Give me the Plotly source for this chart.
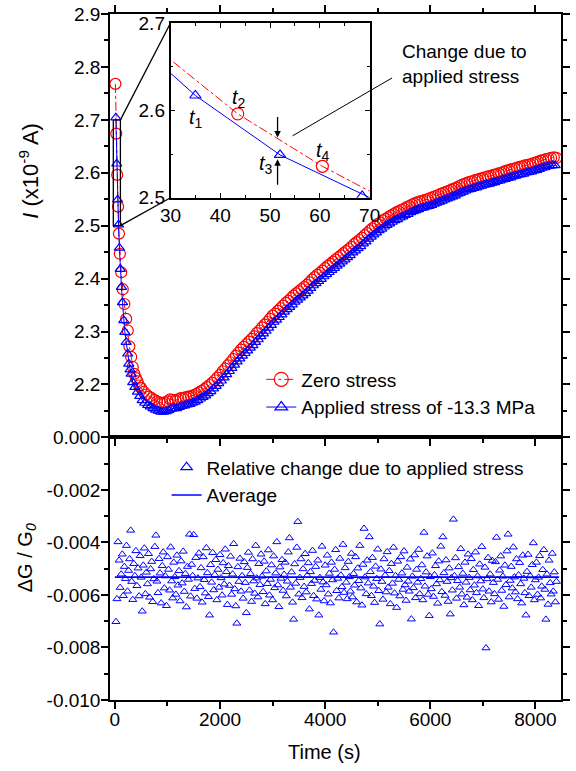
import plotly.graph_objects as go

# ---------------- data ----------------
# Zero stress current (x1e-9 A) vs time (s)
t_zero = [9.5, 26.5, 43.5, 60.5, 77.5, 94.5, 120, 150, 180, 215, 245, 275, 310, 340, 370, 400, 430, 460, 500, 550, 600,
          650, 700, 750, 800, 850, 900, 950, 1000, 1050, 1100,
          1150, 1200, 1250, 1300, 1350, 1400, 1450, 1500, 1550, 1600,
          1650, 1700, 1750, 1800, 1850, 1900, 1950, 2000, 2050, 2100,
          2150, 2200, 2250, 2300, 2350, 2400, 2450, 2500, 2550, 2600,
          2650, 2700, 2750, 2800, 2850, 2900, 2950, 3000, 3050, 3100,
          3150, 3200, 3250, 3300, 3350, 3400, 3450, 3500, 3550, 3600,
          3650, 3700, 3750, 3800, 3850, 3900, 3950, 4000, 4050, 4100,
          4150, 4200, 4250, 4300, 4350, 4400, 4450, 4500, 4550, 4600,
          4650, 4700, 4750, 4800, 4850, 4900, 4950, 5000, 5050, 5100,
          5150, 5200, 5250, 5300, 5350, 5400, 5450, 5500, 5550, 5600,
          5650, 5700, 5750, 5800, 5850, 5900, 5950, 6000, 6050, 6100,
          6150, 6200, 6250, 6300, 6350, 6400, 6450, 6500, 6550, 6600,
          6650, 6700, 6750, 6800, 6850, 6900, 6950, 7000, 7050, 7100,
          7150, 7200, 7250, 7300, 7350, 7400, 7450, 7500, 7550, 7600,
          7650, 7700, 7750, 7800, 7850, 7900, 7950, 8000, 8050, 8100,
          8150, 8200, 8250, 8300, 8350, 8400]
I_zero = [2.768, 2.674, 2.596, 2.536, 2.485, 2.447, 2.412, 2.380, 2.352, 2.324, 2.302, 2.272, 2.252, 2.233, 2.220, 2.212, 2.206, 2.198, 2.193, 2.186, 2.181,
          2.177, 2.174, 2.171, 2.168, 2.166, 2.165, 2.166, 2.168, 2.172, 2.171,
          2.170, 2.172, 2.174, 2.174, 2.176, 2.177, 2.178, 2.180, 2.182, 2.185,
          2.188, 2.191, 2.195, 2.199, 2.203, 2.208, 2.213, 2.218, 2.225, 2.230,
          2.236, 2.242, 2.248, 2.254, 2.260, 2.266, 2.271, 2.276, 2.281, 2.286,
          2.291, 2.297, 2.302, 2.308, 2.313, 2.318, 2.324, 2.330, 2.334, 2.339,
          2.344, 2.349, 2.354, 2.358, 2.363, 2.368, 2.372, 2.376, 2.380, 2.384,
          2.388, 2.393, 2.398, 2.403, 2.407, 2.411, 2.415, 2.420, 2.424, 2.428,
          2.432, 2.436, 2.440, 2.444, 2.448, 2.452, 2.456, 2.460, 2.465, 2.469,
          2.473, 2.477, 2.482, 2.486, 2.491, 2.495, 2.499, 2.503, 2.506, 2.510,
          2.513, 2.516, 2.519, 2.522, 2.525, 2.527, 2.530, 2.532, 2.535, 2.537,
          2.540, 2.542, 2.544, 2.546, 2.547, 2.549, 2.550, 2.552, 2.554, 2.556,
          2.558, 2.560, 2.562, 2.564, 2.566, 2.568, 2.570, 2.572, 2.575, 2.577,
          2.579, 2.581, 2.583, 2.584, 2.586, 2.587, 2.589, 2.590, 2.592, 2.593,
          2.594, 2.596, 2.597, 2.599, 2.600, 2.602, 2.604, 2.605, 2.607, 2.608,
          2.610, 2.611, 2.612, 2.614, 2.615, 2.616, 2.618, 2.619, 2.621, 2.623,
          2.624, 2.626, 2.627, 2.628, 2.629, 2.628]

# Applied stress of -13.3 MPa
t_app = [18, 35, 52, 68.5, 85.5, 102.5, 125, 145, 170, 190, 215, 245, 265, 290, 310, 340, 380, 430, 475, 520, 570, 625,
         675, 725, 775, 825, 875, 925, 975, 1025, 1075, 1125,
         1175, 1225, 1275, 1325, 1375, 1425, 1475, 1525, 1575, 1625,
         1675, 1725, 1775, 1825, 1875, 1925, 1975, 2025, 2075, 2125,
         2175, 2225, 2275, 2325, 2375, 2425, 2475, 2525, 2575, 2625,
         2675, 2725, 2775, 2825, 2875, 2925, 2975, 3025, 3075, 3125,
         3175, 3225, 3275, 3325, 3375, 3425, 3475, 3525, 3575, 3625,
         3675, 3725, 3775, 3825, 3875, 3925, 3975, 4025, 4075, 4125,
         4175, 4225, 4275, 4325, 4375, 4425, 4475, 4525, 4575, 4625,
         4675, 4725, 4775, 4825, 4875, 4925, 4975, 5025, 5075, 5125,
         5175, 5225, 5275, 5325, 5375, 5425, 5475, 5525, 5575, 5625,
         5675, 5725, 5775, 5825, 5875, 5925, 5975, 6025, 6075, 6125,
         6175, 6225, 6275, 6325, 6375, 6425, 6475, 6525, 6575, 6625,
         6675, 6725, 6775, 6825, 6875, 6925, 6975, 7025, 7075, 7125,
         7175, 7225, 7275, 7325, 7375, 7425, 7475, 7525, 7575, 7625,
         7675, 7725, 7775, 7825, 7875, 7925, 7975, 8025, 8075, 8125,
         8175, 8225, 8275, 8325, 8375]
I_app = [2.704, 2.617, 2.549, 2.502, 2.458, 2.418, 2.384, 2.355, 2.321, 2.299, 2.280, 2.258, 2.239, 2.228, 2.220, 2.204, 2.195, 2.186, 2.178, 2.170, 2.165, 2.161,
         2.158, 2.155, 2.152, 2.150, 2.148, 2.148, 2.149, 2.151, 2.154, 2.155,
         2.155, 2.157, 2.159, 2.160, 2.162, 2.163, 2.165, 2.167, 2.170, 2.173,
         2.176, 2.179, 2.183, 2.187, 2.192, 2.197, 2.202, 2.207, 2.213, 2.219,
         2.225, 2.231, 2.237, 2.243, 2.249, 2.254, 2.259, 2.264, 2.269, 2.274,
         2.280, 2.285, 2.291, 2.296, 2.301, 2.307, 2.312, 2.318, 2.322, 2.327,
         2.332, 2.337, 2.342, 2.346, 2.351, 2.356, 2.360, 2.364, 2.368, 2.372,
         2.377, 2.382, 2.387, 2.391, 2.395, 2.399, 2.404, 2.408, 2.412, 2.416,
         2.420, 2.424, 2.428, 2.432, 2.436, 2.440, 2.444, 2.449, 2.453, 2.457,
         2.461, 2.466, 2.470, 2.475, 2.479, 2.483, 2.487, 2.491, 2.494, 2.498,
         2.501, 2.504, 2.507, 2.510, 2.512, 2.515, 2.517, 2.520, 2.522, 2.525,
         2.527, 2.529, 2.531, 2.533, 2.534, 2.536, 2.537, 2.539, 2.541, 2.543,
         2.545, 2.547, 2.549, 2.551, 2.553, 2.555, 2.557, 2.560, 2.562, 2.564,
         2.566, 2.568, 2.569, 2.571, 2.572, 2.574, 2.575, 2.577, 2.578, 2.579,
         2.581, 2.582, 2.584, 2.585, 2.587, 2.588, 2.590, 2.591, 2.593, 2.594,
         2.596, 2.597, 2.598, 2.600, 2.601, 2.602, 2.604, 2.605, 2.607, 2.609,
         2.610, 2.612, 2.613, 2.614, 2.614]

# Relative change dG/G0, sampled every 20 s starting at 20 s
dG_start = 20
dG_step = 20
dG_rel = [
    -0.00702, -0.00615, -0.00398, -0.00468, -0.00572, -0.00521, -0.00445, -0.00603, -0.00492, -0.00538, -0.00412, -0.00586, -0.00507, -0.00463, -0.00354, -0.00549, -0.00618, -0.00481, -0.00527, -0.00432,
    -0.00565, -0.00498, -0.00604, -0.00451, -0.00533, -0.00662, -0.00487, -0.00422, -0.00596, -0.00514, -0.00558, -0.00443, -0.00609, -0.00501, -0.00473, -0.00626, -0.00539, -0.00416, -0.00373, -0.00548,
    -0.00592, -0.00462, -0.00517, -0.00631, -0.00489, -0.00437, -0.00574, -0.00528, -0.00641, -0.00455, -0.00503, -0.00582, -0.00418, -0.00547, -0.00612, -0.00476, -0.00531, -0.00598, -0.00449, -0.00563,
    -0.00508, -0.00623, -0.00471, -0.00555, -0.00434, -0.00587, -0.00519, -0.00646, -0.00492, -0.00541, -0.00369, -0.00605, -0.00484, -0.00527, -0.00371, -0.00576, -0.00458, -0.00613, -0.00536, -0.00441,
    -0.00569, -0.00497, -0.00628, -0.00455, -0.00542, -0.00593, -0.00421, -0.00516, -0.00607, -0.00677, -0.00485, -0.00552, -0.00439, -0.00581, -0.00523, -0.00466, -0.00619, -0.00503, -0.00571, -0.00447,
    -0.00535, -0.00601, -0.00478, -0.00559, -0.00426, -0.00512, -0.00637, -0.00489, -0.00564, -0.00453, -0.00598, -0.00521, -0.00405, -0.00577, -0.00642, -0.00708, -0.00493, -0.00549, -0.00461, -0.00586,
    -0.00527, -0.00613, -0.00474, -0.00553, -0.00668, -0.00496, -0.00438, -0.00582, -0.00519, -0.00625, -0.00463, -0.00547, -0.00594, -0.00412, -0.00536, -0.00608, -0.00481, -0.00561, -0.00445, -0.00529,
    -0.00588, -0.00472, -0.00634, -0.00509, -0.00557, -0.00429, -0.00601, -0.00541, -0.00486, -0.00619, -0.00452, -0.00573, -0.00517, -0.00398, -0.00562, -0.00645, -0.00494, -0.00537, -0.00466, -0.00583,
    -0.00522, -0.00476, -0.00604, -0.00548, -0.00437, -0.00383, -0.00571, -0.00513, -0.00628, -0.00693, -0.00482, -0.00556, -0.00419, -0.00321, -0.00597, -0.00534, -0.00463, -0.00611, -0.00501, -0.00568,
    -0.00443, -0.00589, -0.00526, -0.00478, -0.00654, -0.00512, -0.00557, -0.00431, -0.00603, -0.00545, -0.00492, -0.00616, -0.00468, -0.00677, -0.00534, -0.00579, -0.00415, -0.00551, -0.00623, -0.00487,
    -0.00562, -0.00449, -0.00597, -0.00518, -0.00631, -0.00476, -0.00543, -0.00742, -0.00503, -0.00428, -0.00584, -0.00537, -0.00612, -0.00461, -0.00525, -0.00569, -0.00408, -0.00591, -0.00497, -0.00552,
    -0.00615, -0.00473, -0.00531, -0.00586, -0.00442, -0.00608, -0.00519, -0.00563, -0.00455, -0.00627, -0.00498, -0.00546, -0.00412, -0.00574, -0.00639, -0.00484, -0.00347, -0.00532, -0.00596, -0.00468,
    -0.00555, -0.00379, -0.00512, -0.00603, -0.00458, -0.00567, -0.00629, -0.00491, -0.00538, -0.00426, -0.00584, -0.00711, -0.00502, -0.00549, -0.00617, -0.00463, -0.00525, -0.00589, -0.00436, -0.00571,
    -0.00508, -0.00634, -0.00481, -0.00556, -0.00419, -0.00593, -0.00527, -0.00648, -0.00472, -0.00541, -0.00604, -0.00455, -0.00517, -0.00579, -0.00433, -0.00562, -0.00621, -0.00495, -0.00548, -0.00586,
    -0.00464, -0.00692, -0.00529, -0.00573, -0.00448, -0.00611, -0.00503, -0.00552, -0.00427, -0.00596, -0.00538, -0.00486, -0.00619, -0.00362, -0.00567, -0.00513, -0.00452, -0.00598, -0.00679, -0.00531,
    -0.00577, -0.00441, -0.00606, -0.00524, -0.00489, -0.00558, -0.00632, -0.00471, -0.00543, -0.00415, -0.00588, -0.00379, -0.00516, -0.00602, -0.00467, -0.00549, -0.00625, -0.00498, -0.00673, -0.00535,
    -0.00582, -0.00312, -0.00527, -0.00459, -0.00613, -0.00546, -0.00493, -0.00571, -0.00424, -0.00597, -0.00518, -0.00638, -0.00476, -0.00552, -0.00609, -0.00445, -0.00534, -0.00581, -0.00462, -0.00619,
    -0.00504, -0.00563, -0.00437, -0.00592, -0.00528, -0.00641, -0.00483, -0.00547, -0.00416, -0.00578, -0.00611, -0.00495, -0.00802, -0.00539, -0.00458, -0.00586, -0.00521, -0.00627, -0.00469, -0.00553,
    -0.00596, -0.00474, -0.00381, -0.00541, -0.00617, -0.00506, -0.00452, -0.00583, -0.00529, -0.00644, -0.00487, -0.00561, -0.00433, -0.00369, -0.00608, -0.00545, -0.00492, -0.00574, -0.00418, -0.00532,
    -0.00589, -0.00463, -0.00615, -0.00524, -0.00477, -0.00558, -0.00631, -0.00449, -0.00537, -0.00592, -0.00677, -0.00511, -0.00446, -0.00603, -0.00528, -0.00571, -0.00485, -0.00402, -0.00619, -0.00543,
    -0.00476, -0.00598, -0.00533, -0.00451, -0.00612, -0.00567, -0.00504, -0.00428, -0.00579, -0.00693, -0.00521, -0.00636, -0.00468, -0.00554, -0.00597, -0.00442, -0.00586, -0.00513, -0.00627, -0.00549,
]
avg_value = -0.00532
avg_span = [0, 8450]

top_ticks = [2.2, 2.3, 2.4, 2.5, 2.6, 2.7, 2.8, 2.9]
bot_ticks = [-0.010, -0.008, -0.006, -0.004, -0.002, 0.0]

# ---------------- geometry ----------------
W, H = 576, 771
ML, MR, MT, MB = 110, 4, 13, 71
PW = W - ML - MR
PH = H - MT - MB
SPLIT = 263 / PH
X_RANGE = [-93, 8487]
Y_TOP = [2.1, 2.9]
Y_BOT = [-0.010, 0.0]
INSET_X = [30, 70]
INSET_Y = [2.5, 2.7]


def fx(px):
    return (px - ML) / PW


def fy(py):
    return (H - MB - py) / PH


INSET_DX = [fx(172), fx(376)]
INSET_DY = [fy(197), fy(22)]

RED = "#ff0000"
BLUE = "#0000ff"
FONT = "Arial, 'Liberation Sans', sans-serif"
FS = 19

fig = go.Figure()

# main panel
fig.add_trace(go.Scatter(x=t_zero, y=I_zero, mode="lines+markers", xaxis="x", yaxis="y",
                         line=dict(color=RED, width=1, dash="dashdot"),
                         marker=dict(symbol="circle-open", size=11, color=RED, line=dict(width=1.2)),
                         showlegend=False))
fig.add_trace(go.Scatter(x=t_app, y=I_app, mode="lines+markers", xaxis="x", yaxis="y",
                         line=dict(color=BLUE, width=1),
                         marker=dict(symbol="triangle-up-open", size=9, color=BLUE, line=dict(width=1.2)),
                         showlegend=False))
# inset
fig.add_trace(go.Scatter(x=t_zero, y=I_zero, mode="lines+markers", xaxis="x3", yaxis="y3",
                         line=dict(color=RED, width=1, dash="dashdot"),
                         marker=dict(symbol="circle-open", size=12, color=RED, line=dict(width=1.2)),
                         showlegend=False))
fig.add_trace(go.Scatter(x=t_app, y=I_app, mode="lines+markers", xaxis="x3", yaxis="y3",
                         line=dict(color=BLUE, width=1),
                         marker=dict(symbol="triangle-up-open", size=10, color=BLUE, line=dict(width=1.2)),
                         showlegend=False))
# legend entries (top)
fig.add_trace(go.Scatter(x=[None], y=[None], mode="lines+markers", name="Zero stress", xaxis="x", yaxis="y",
                         line=dict(color=RED, width=1, dash="dashdot"),
                         marker=dict(symbol="circle-open", size=14, color=RED, line=dict(width=1.2)),
                         legend="legend"))
fig.add_trace(go.Scatter(x=[None], y=[None], mode="lines+markers", name="Applied stress of -13.3 MPa",
                         xaxis="x", yaxis="y",
                         line=dict(color=BLUE, width=1),
                         marker=dict(symbol="triangle-up-open", size=11, color=BLUE, line=dict(width=1.2)),
                         legend="legend"))
# bottom panel
fig.add_trace(go.Scatter(x0=dG_start, dx=dG_step, y=dG_rel, mode="markers", xaxis="x2", yaxis="y2",
                         marker=dict(symbol="triangle-up-open", size=7, color=BLUE, line=dict(width=1)),
                         showlegend=False))
fig.add_trace(go.Scatter(x=avg_span, y=[avg_value, avg_value], mode="lines", xaxis="x2", yaxis="y2",
                         line=dict(color=BLUE, width=1.8), showlegend=False))
fig.add_trace(go.Scatter(x=[None], y=[None], mode="markers", name="Relative change due to applied stress",
                         xaxis="x2", yaxis="y2",
                         marker=dict(symbol="triangle-up-open", size=10, color=BLUE, line=dict(width=1.2)),
                         legend="legend2"))
fig.add_trace(go.Scatter(x=[None], y=[None], mode="lines", name="Average", xaxis="x2", yaxis="y2",
                         line=dict(color=BLUE, width=1.5), legend="legend2"))

ax_common = dict(showline=True, linecolor="black", linewidth=1.5, ticks="outside", ticklen=7,
                 tickwidth=1.5, tickcolor="black", showgrid=False, zeroline=False,
                 tickfont=dict(size=FS, color="black", family=FONT))
minor_out = dict(ticks="outside", ticklen=4, tickwidth=1.5, tickcolor="black")

fig.update_layout(
    width=W, height=H,
    margin=dict(l=ML, r=MR, t=MT, b=MB),
    paper_bgcolor="white", plot_bgcolor="white",
    font=dict(family=FONT, size=FS, color="black"),
    xaxis=dict(**ax_common, domain=[0, 1], anchor="y", range=X_RANGE, mirror="ticks",
               showticklabels=False, tick0=0, dtick=2000,
               minor=dict(**minor_out, dtick=1000, tick0=0)),
    xaxis2=dict(**ax_common, domain=[0, 1], anchor="y2", range=X_RANGE, matches="x", mirror=True,
                tick0=0, dtick=2000, ticklabelstandoff=-6,
                minor=dict(**minor_out, dtick=1000, tick0=0)),
    yaxis=dict(**ax_common, domain=[SPLIT, 1], anchor="x", range=Y_TOP, mirror="ticks",
               tickmode="array", tickvals=top_ticks, ticktext=[f"{v:.1f}" for v in top_ticks],
               ticklabelstandoff=-3,
               minor=dict(**minor_out, dtick=0.05, tick0=2.1)),
    yaxis2=dict(**ax_common, domain=[0, SPLIT], anchor="x2", range=Y_BOT, mirror="ticks",
                tickmode="array", tickvals=bot_ticks, ticktext=[f"{v:.3f}" for v in bot_ticks],
                ticklabelstandoff=-3,
                minor=dict(**minor_out, dtick=0.001, tick0=0)),
    xaxis3=dict(showline=True, linecolor="black", linewidth=1.5, ticks="inside", ticklen=5, tickwidth=1.2,
                tickcolor="black", showgrid=False, zeroline=False, mirror="ticks",
                tickfont=dict(size=FS, color="black", family=FONT),
                domain=INSET_DX, anchor="y3", range=INSET_X, dtick=10, tick0=30,
                minor=dict(ticks="inside", ticklen=3, tickwidth=1.2, tickcolor="black", dtick=5, tick0=30)),
    yaxis3=dict(showline=True, linecolor="black", linewidth=1.5, ticks="inside", ticklen=5, tickwidth=1.2,
                tickcolor="black", showgrid=False, zeroline=False, mirror="ticks",
                tickfont=dict(size=FS, color="black", family=FONT),
                domain=INSET_DY, anchor="x3", range=INSET_Y, dtick=0.1, tick0=2.5,
                minor=dict(ticks="inside", ticklen=3, tickwidth=1.2, tickcolor="black", dtick=0.05, tick0=2.5)),
    legend=dict(x=fx(265), y=fy(360), xanchor="left", yanchor="top", bgcolor="rgba(0,0,0,0)",
                font=dict(size=FS, family=FONT, color="black"), tracegroupgap=0),
    legend2=dict(x=fx(168), y=fy(448), xanchor="left", yanchor="top", bgcolor="rgba(0,0,0,0)",
                 font=dict(size=FS, family=FONT, color="black"), tracegroupgap=0),
)


# zoom rectangle and connector lines (main-panel data -> paper)
def main_to_paper(t, i):
    return ((t - X_RANGE[0]) / (X_RANGE[1] - X_RANGE[0]),
            SPLIT + (i - Y_TOP[0]) / (Y_TOP[1] - Y_TOP[0]) * (1 - SPLIT))


rect_t = [-30, 105]
fig.add_shape(type="rect", xref="x", yref="y", x0=rect_t[0], x1=rect_t[1], y0=INSET_Y[0], y1=INSET_Y[1],
              line=dict(color="black", width=1.3))
p_top = main_to_paper(rect_t[1], INSET_Y[1])
p_bot = main_to_paper(rect_t[1], INSET_Y[0])
fig.add_shape(type="line", xref="paper", yref="paper", x0=p_top[0], y0=p_top[1], x1=INSET_DX[0], y1=INSET_DY[1],
              line=dict(color="black", width=1.3))
fig.add_shape(type="line", xref="paper", yref="paper", x0=p_bot[0], y0=p_bot[1], x1=INSET_DX[0], y1=INSET_DY[0],
              line=dict(color="black", width=1.3))
# pointer line to the note
fig.add_shape(type="line", xref="paper", yref="paper", x0=fx(297), y0=fy(135), x1=fx(399), y1=fy(77),
              line=dict(color="black", width=1))

# inset arrows
fig.add_annotation(x=51.5, y=2.569, xref="x3", yref="y3", ax=0, ay=-22, showarrow=True,
                   arrowhead=2, arrowsize=1, arrowwidth=1.3, arrowcolor="black", text="")
fig.add_annotation(x=51.5, y=2.544, xref="x3", yref="y3", ax=0, ay=27, showarrow=True,
                   arrowhead=2, arrowsize=1, arrowwidth=1.3, arrowcolor="black", text="")

# t labels
for txt, tx, ty in [("1", 35.2, 2.591), ("2", 43.8, 2.613), ("3", 49.1, 2.5385), ("4", 60.6, 2.5534)]:
    fig.add_annotation(x=tx, y=ty, xref="x3", yref="y3", showarrow=False, xanchor="center", yanchor="middle",
                       text=f"<i>t</i><sub>{txt}</sub>", font=dict(size=20, family=FONT, color="black"))

fig.add_annotation(x=fx(407), y=fy(63), xref="paper", yref="paper", xanchor="left", yanchor="middle",
                   align="left", showarrow=False, text="Change due to<br>applied stress",
                   font=dict(size=FS, family=FONT, color="black"))

# axis titles
fig.add_annotation(x=fx(27), y=fy(170), xref="paper", yref="paper", textangle=-90, showarrow=False,
                   xanchor="center", yanchor="middle",
                   text="<i>I</i> (x10<sup>-9</sup> A)", font=dict(size=22, family=FONT, color="black"))
fig.add_annotation(x=fx(24), y=fy(558), xref="paper", yref="paper", textangle=-90, showarrow=False,
                   xanchor="center", yanchor="middle",
                   text="ΔG / G<sub><i>0</i></sub>", font=dict(size=20, family=FONT, color="black"))
fig.add_annotation(x=fx(330), y=fy(752), xref="paper", yref="paper", showarrow=False,
                   xanchor="center", yanchor="middle",
                   text="Time (s)", font=dict(size=20, family=FONT, color="black"))

fig.write_html("out.html", config={"displayModeBar": False},
               post_script="document.body.style.margin='0px';document.body.style.overflow='hidden';")
